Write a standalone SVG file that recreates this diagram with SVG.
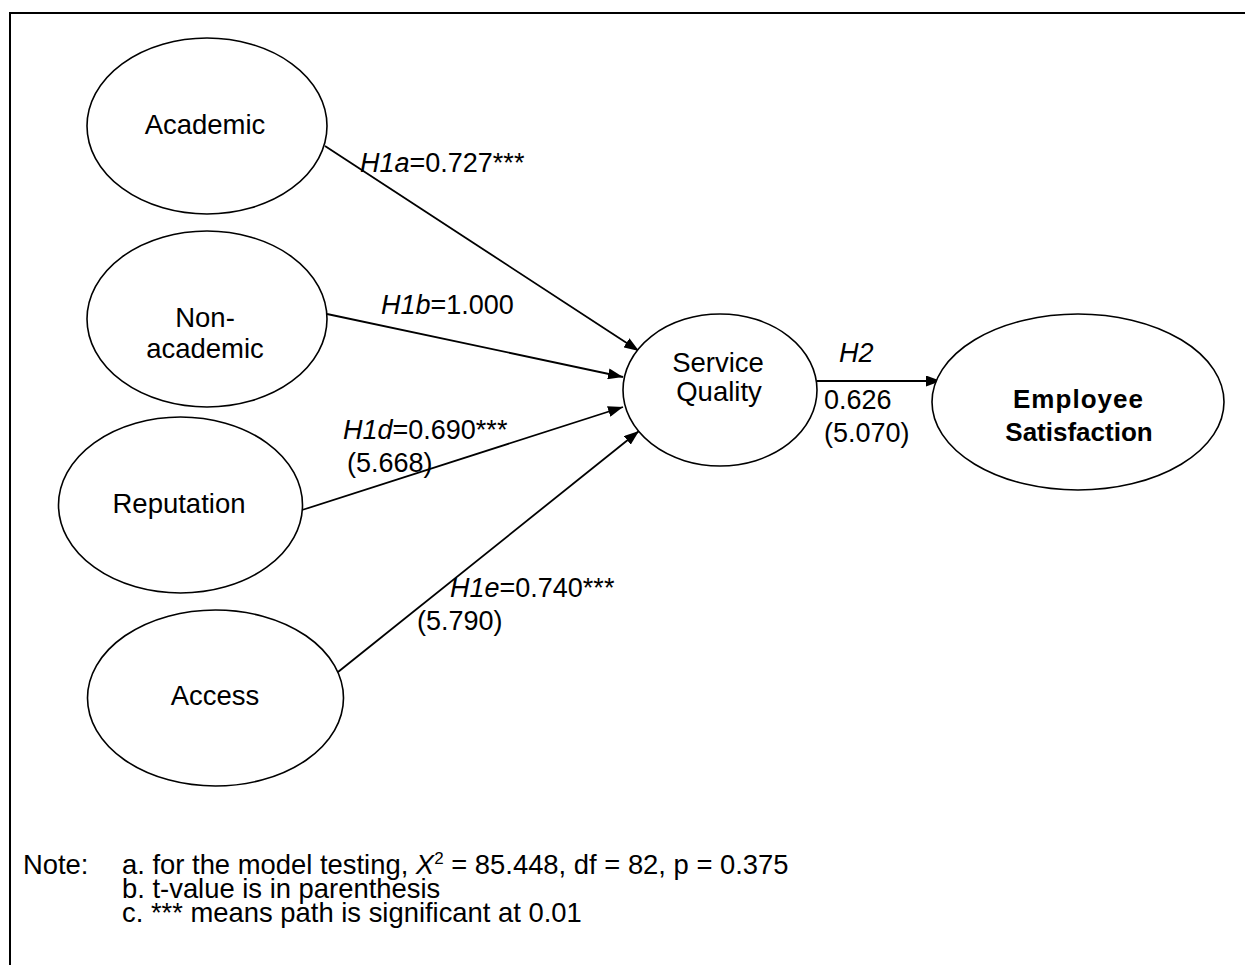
<svg xmlns="http://www.w3.org/2000/svg" width="1245" height="965" viewBox="0 0 1245 965">
<style>
.node ellipse{fill:#fff;stroke:#000;stroke-width:1.6}
.t{font-family:"Liberation Sans",Arial,sans-serif;font-size:27.5px;fill:#000}
.lb{font-family:"Liberation Sans",Arial,sans-serif;font-size:27px;fill:#000}
.nt{font-family:"Liberation Sans",Arial,sans-serif;font-size:27.4px;fill:#000}
.b{font-weight:bold;font-size:26px}
.i{font-style:italic}
.edge line{stroke:#000;stroke-width:1.8}
</style>
<defs>
<marker id="arr" markerUnits="userSpaceOnUse" markerWidth="15" markerHeight="11" refX="15" refY="5.5" orient="auto">
<path d="M0,0 L15,5.5 L0,11 z" fill="#000"/>
</marker>
</defs>
<rect x="10" y="13" width="1260" height="1000" fill="#fff" stroke="#000" stroke-width="2"/>
<g id="connectors" class="edge">
<line x1="325" y1="146" x2="639" y2="351" marker-end="url(#arr)"/>
<line x1="327" y1="314" x2="623" y2="377" marker-end="url(#arr)"/>
<line x1="302" y1="510" x2="623" y2="407" marker-end="url(#arr)"/>
<line x1="338" y1="672" x2="639" y2="431" marker-end="url(#arr)"/>
<line x1="817" y1="381" x2="941" y2="381" marker-end="url(#arr)"/>
</g>
<g id="academic" class="node"><ellipse cx="207" cy="126" rx="120" ry="88"/><text class="t" x="205" y="134" text-anchor="middle">Academic</text></g>
<g id="nonacademic" class="node"><ellipse cx="207" cy="319" rx="120" ry="88"/><text class="t" x="205" y="327" text-anchor="middle">Non-</text><text class="t" x="205" y="358" text-anchor="middle">academic</text></g>
<g id="reputation" class="node"><ellipse cx="180.5" cy="505" rx="122" ry="88"/><text class="t" x="179" y="513" text-anchor="middle">Reputation</text></g>
<g id="access" class="node"><ellipse cx="215.5" cy="698" rx="128" ry="88"/><text class="t" x="215" y="705" text-anchor="middle">Access</text></g>
<g id="servicequality" class="node"><ellipse cx="720" cy="390" rx="97" ry="76"/><text class="t" x="718" y="372" text-anchor="middle">Service</text><text class="t" x="719" y="401" text-anchor="middle">Quality</text></g>
<g id="employeesatisfaction" class="node"><ellipse cx="1078" cy="402" rx="146" ry="88"/><text class="t b" x="1078" y="408" text-anchor="middle" textLength="130" lengthAdjust="spacing">Employee</text><text class="t b" x="1079" y="441" text-anchor="middle">Satisfaction</text></g>
<g id="labels">
<text class="lb" x="360" y="172"><tspan class="i">H1a</tspan>=0.727***</text>
<text class="lb" x="381" y="314"><tspan class="i">H1b</tspan>=1.000</text>
<text class="lb" x="343" y="439"><tspan class="i">H1d</tspan>=0.690***</text>
<text class="lb" x="347" y="472">(5.668)</text>
<text class="lb" x="450" y="597"><tspan class="i">H1e</tspan>=0.740***</text>
<text class="lb" x="417" y="630">(5.790)</text>
<text class="lb i" x="839" y="362">H2</text>
<text class="lb" x="824" y="409">0.626</text>
<text class="lb" x="824" y="442">(5.070)</text>
</g>
<g id="note" class="nt">
<text x="23" y="874">Note:</text>
<text x="122" y="874">a. for the model testing, <tspan class="i">X</tspan><tspan font-size="17" dy="-10">2</tspan><tspan dy="10"> = 85.448, df = 82, p = 0.375</tspan></text>
<text x="122" y="898">b. t-value is in parenthesis</text>
<text x="122" y="922">c. *** means path is significant at 0.01</text>
</g>
</svg>
